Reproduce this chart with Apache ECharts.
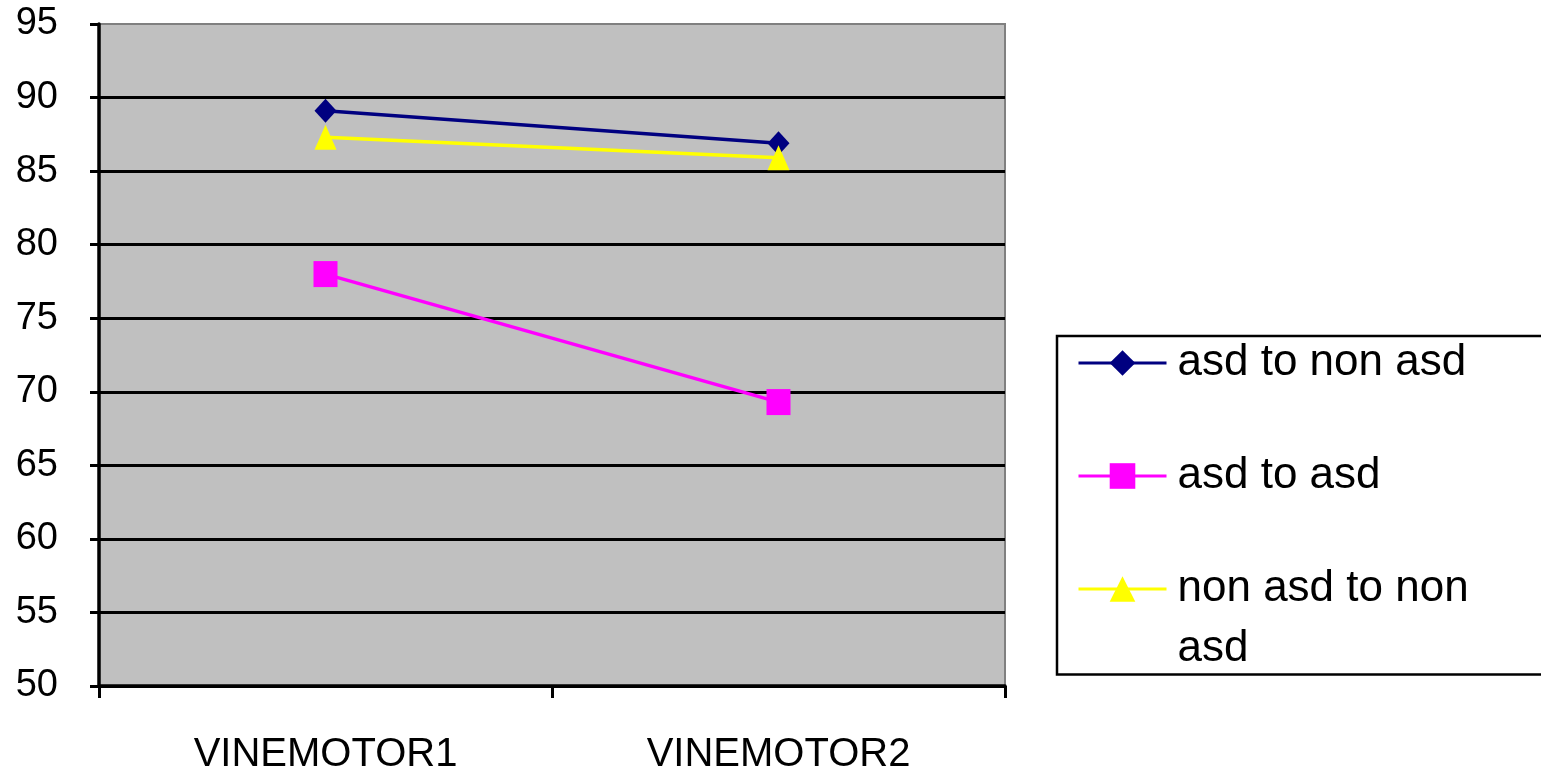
<!DOCTYPE html>
<html>
<head>
<meta charset="utf-8">
<script src="https://cdn.jsdelivr.net/npm/echarts@6/dist/echarts.min.js"></script>
<style>
  html, body { margin: 0; padding: 0; background: #ffffff; }
  #chart { width: 1541px; height: 775px; }
</style>
</head>
<body>
<div id="chart"></div>
<script>
// Categories and series values
const categories = ['VINEMOTOR1', 'VINEMOTOR2'];
const asdToNonAsd = [89.1, 86.9];
const asdToAsd = [78.0, 69.3];
const nonAsdToNonAsd = [87.3, 85.9];
const seriesNames = ['asd to non asd', 'asd to asd', 'non asd to non asd'];

// Y axis range
const yMin = 50;
const yMax = 95;
const yStep = 5;

const FONT = '"Liberation Sans", Arial, sans-serif';
const LEGEND_FONT_SIZE = 44;

const chart = echarts.init(document.getElementById('chart'), null, { renderer: 'canvas' });

// Legend labels are laid out as two rich lines: a tall first line whose middle
// lines up with the icon, and a thin second line that carries any wrapped word.
function legendLabel(name) {
  const parts = name === 'non asd to non asd' ? ['non asd to non', 'asd'] : [name, ' '];
  return '{first|' + parts[0] + '}\n{second|' + parts[1] + '}';
}

chart.setOption({
  animation: false,
  backgroundColor: '#ffffff',
  textStyle: { fontFamily: FONT, color: '#000' },
  grid: {
    left: 99,
    right: 536,
    top: 24,
    bottom: 87,
    show: true,
    backgroundColor: '#c0c0c0',
    borderColor: '#808080',
    borderWidth: 2
  },
  xAxis: {
    type: 'category',
    data: categories,
    boundaryGap: true,
    axisLine: { show: true, lineStyle: { color: '#000', width: 3.5 } },
    axisTick: { show: true, inside: false, length: 12, interval: 0, lineStyle: { color: '#000', width: 3 } },
    axisLabel: { color: '#000', fontFamily: FONT, fontSize: 40, margin: 49, interval: 0 },
    splitLine: { show: false }
  },
  yAxis: {
    type: 'value',
    min: yMin,
    max: yMax,
    interval: yStep,
    axisLine: { show: true, lineStyle: { color: '#000', width: 3.5 } },
    axisTick: { show: true, inside: false, length: 9, lineStyle: { color: '#000', width: 3 } },
    axisLabel: { color: '#000', fontFamily: FONT, fontSize: 38, margin: 41 },
    splitLine: { show: true, showMaxLine: false, lineStyle: { color: '#000', width: 3 } }
  },
  legend: {
    orient: 'vertical',
    left: 1057,
    top: 336,
    padding: [4.5, 100, 3.5, 20],
    itemGap: 8.5,
    itemWidth: 88,
    itemHeight: 32,
    backgroundColor: '#ffffff',
    borderColor: '#000',
    borderWidth: 2.5,
    borderRadius: 0,
    lineStyle: { width: 3 },
    formatter: legendLabel,
    textStyle: {
      fontFamily: FONT,
      fontSize: LEGEND_FONT_SIZE,
      color: '#000',
      padding: [0, 0, 0, 6],
      rich: {
        first: { fontFamily: FONT, fontSize: LEGEND_FONT_SIZE, color: '#000', lineHeight: 120 },
        second: { fontFamily: FONT, fontSize: LEGEND_FONT_SIZE, color: '#000', lineHeight: 1 }
      }
    },
    data: seriesNames
  },
  series: [
    {
      name: seriesNames[0],
      type: 'line',
      data: asdToNonAsd,
      symbol: 'diamond',
      symbolSize: [22, 24],
      lineStyle: { color: '#000080', width: 3.5 },
      itemStyle: { color: '#000080' }
    },
    {
      name: seriesNames[1],
      type: 'line',
      data: asdToAsd,
      symbol: 'rect',
      symbolSize: [24, 26],
      lineStyle: { color: '#ff00ff', width: 3.5 },
      itemStyle: { color: '#ff00ff' }
    },
    {
      name: seriesNames[2],
      type: 'line',
      data: nonAsdToNonAsd,
      symbol: 'triangle',
      symbolSize: [22, 25],
      lineStyle: { color: '#ffff00', width: 3.5 },
      itemStyle: { color: '#ffff00' }
    }
  ]
});
</script>
</body>
</html>
